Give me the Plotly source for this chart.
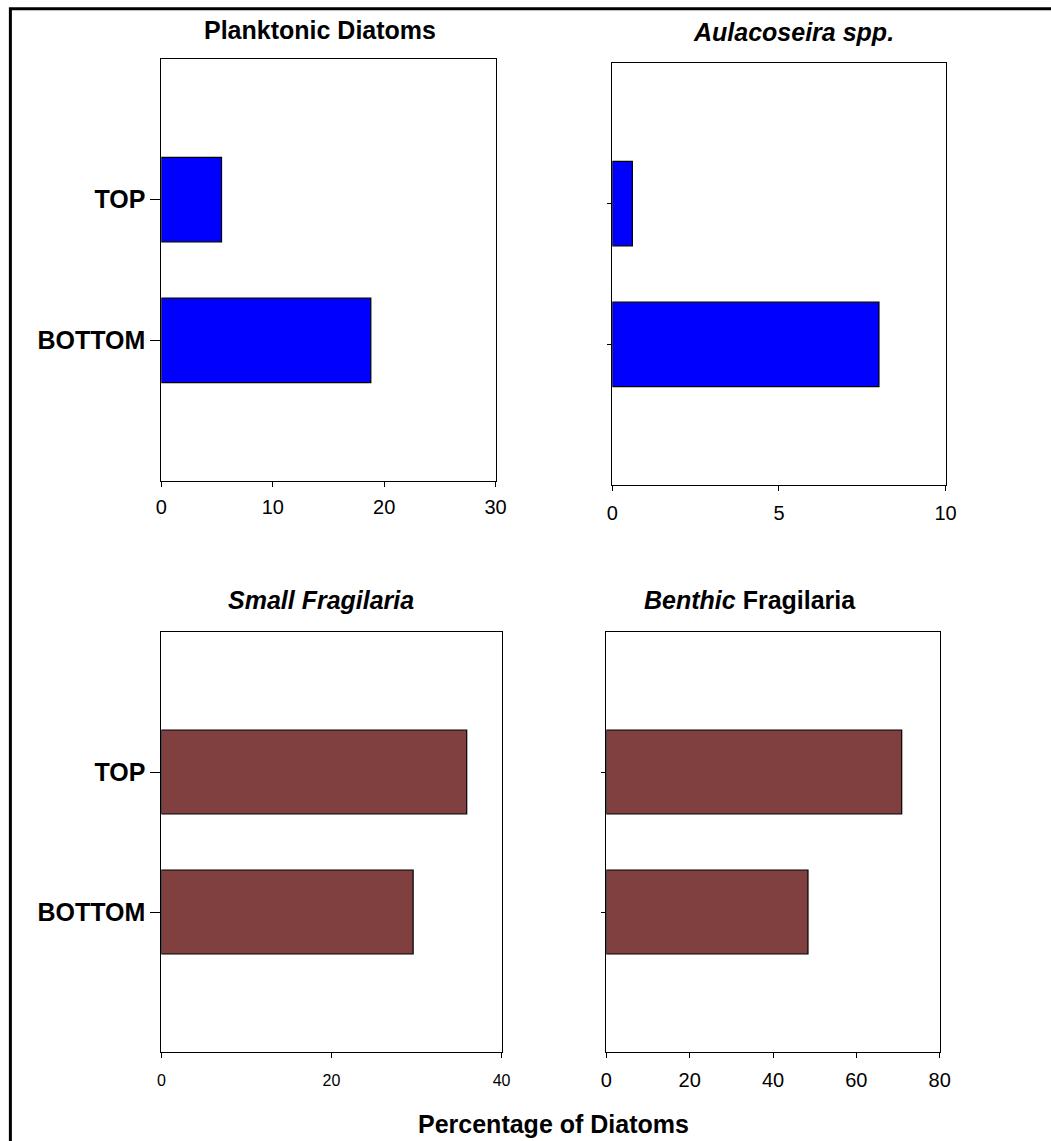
import plotly.graph_objects as go

# ---- data ----
categories = ["BOTTOM", "TOP"]
planktonic = [18.8, 5.4]
aulacoseira = [8.0, 0.6]
small_frag = [29.6, 35.9]
benthic_frag = [48.4, 70.9]

titles = ["<b>Planktonic Diatoms</b>", "<b><i>Aulacoseira spp.</i></b>",
          "<b><i>Small Fragilaria</i></b>", "<b><i>Benthic</i> Fragilaria</b>"]
x_ranges = [[0, 30], [0, 10], [0, 40], [0, 80]]
x_dticks = [10, 5, 20, 20]

BLUE = "#0000FF"
BROWN = "#804040"

W, H = 1051, 1141
# horizontal correction observed in the rendering pipeline
SX, OX = 0.986, 4.3


def fx(px):
    return ((px - OX) / SX) / W


def fy(py):
    return 1 - py / H


# panel boxes in pixels: (x0, x1, ytop, ybottom)
boxes = [(160, 495, 59, 481), (612, 946, 63, 485),
         (160, 501, 632, 1052), (606, 940, 632, 1052)]
series = [planktonic, aulacoseira, small_frag, benthic_frag]
colors = [BLUE, BLUE, BROWN, BROWN]
show_ylabels = [True, False, True, False]
xtick_sizes = [20, 20, 16, 20]
xtick_standoff = [3, 5, 9, 5]
title_pos = [(319, 30), (794, 32), (320, 600), (750, 600)]

FONT = "Liberation Sans, Arial, sans-serif"

fig = go.Figure()
layout = dict(
    width=W, height=H,
    margin=dict(l=0, r=0, t=0, b=0),
    paper_bgcolor="white", plot_bgcolor="white",
    showlegend=False,
    font=dict(family=FONT, color="black"),
    annotations=[], shapes=[],
)

for i in range(4):
    n = "" if i == 0 else str(i + 1)
    xa, ya = "x" + n, "y" + n
    fig.add_trace(go.Bar(
        x=series[i], y=categories, orientation="h",
        xaxis=xa, yaxis=ya, width=0.6,
        marker=dict(color=colors[i], line=dict(color="black", width=1.2)),
        hoverinfo="x+y",
    ))
    x0, x1, yt, yb = boxes[i]
    layout["xaxis" + n] = dict(
        domain=[fx(x0), fx(x1)], anchor=ya, range=x_ranges[i], dtick=x_dticks[i],
        showline=True, linecolor="black", linewidth=1, mirror=True,
        ticks="outside", ticklen=5, tickcolor="black", tickwidth=1,
        showgrid=False, zeroline=False, fixedrange=True,
        tickfont=dict(size=xtick_sizes[i], family=FONT, color="black"),
        ticklabelstandoff=xtick_standoff[i],
    )
    layout["yaxis" + n] = dict(
        domain=[fy(yb), fy(yt)], anchor=xa, type="category",
        categoryorder="array", categoryarray=categories, range=[-1, 2],
        showline=True, linecolor="black", linewidth=1, mirror=True,
        ticks="outside", ticklen=10 if show_ylabels[i] else 4,
        tickcolor="black", tickwidth=1,
        showticklabels=show_ylabels[i],
        showgrid=False, zeroline=False, fixedrange=True,
        tickfont=dict(size=25, family=FONT, color="black"),
        tickprefix="<b>", ticksuffix="</b>",
    )
    tx, ty = title_pos[i]
    layout["annotations"].append(dict(
        text=titles[i], xref="paper", yref="paper", x=fx(tx), y=fy(ty),
        xanchor="center", yanchor="middle", showarrow=False,
        font=dict(size=25, family=FONT, color="black"),
    ))

layout["annotations"].append(dict(
    text="<b>Percentage of Diatoms</b>", xref="paper", yref="paper",
    x=fx(553), y=fy(1124), xanchor="center", yanchor="middle", showarrow=False,
    font=dict(size=25, family=FONT, color="black"),
))

# outer frame (left and top edges visible)
layout["shapes"].append(dict(
    type="rect", xref="paper", yref="paper",
    x0=fx(8.7), x1=1.05, y0=-0.05, y1=fy(8.7),
    line=dict(color="black", width=3), fillcolor="rgba(0,0,0,0)",
))

fig.update_layout(**layout)
fig.write_html(
    "out.html",
    config={"displayModeBar": False},
    post_script="document.body.style.margin='0';document.body.style.overflow='hidden';",
)
